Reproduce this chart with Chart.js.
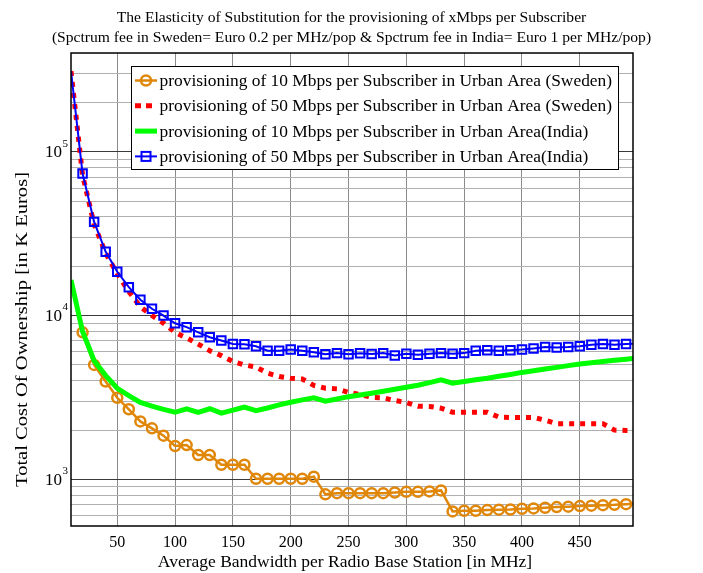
<!DOCTYPE html>
<html>
<head>
<meta charset="utf-8">
<script src="https://cdn.jsdelivr.net/npm/chart.js@4.4.0/dist/chart.umd.min.js"></script>
<style>
html,body{margin:0;padding:0;background:#fff;}
</style>
</head>
<body>
<canvas id="myChart" width="703" height="573"></canvas>
<script>
// data
const bandwidthMHz = [10,20,30,40,50,60,70,80,90,100,110,120,130,140,150,160,170,180,190,200,
  210,220,230,240,250,260,270,280,290,300,310,320,330,340,350,360,370,380,390,400,
  410,420,430,440,450,460,470,480,490,500];

const sweden10 = [null,7900,5000,3960,3150,2680,2260,2050,1850,1600,1620,1410,1410,1230,1230,1230,1010,1010,1010,1010,
  1010,1040,811,825,825,825,825,825,833,840,840,845,857,638,644,644,650,654,656,663,
  666,672,678,682,688,692,697,700,707,712];

const sweden50 = [310000,72000,36000,24000,18000,14000,11300,10000,9000,7900,7300,6700,6100,5700,5250,5000,4850,4450,4250,4150,
  4100,3750,3600,3570,3400,3300,3170,3150,3030,2950,2800,2790,2720,2570,2570,2570,2570,2400,2390,2390,
  2390,2300,2190,2190,2190,2190,2190,2000,1990,1990];

const india10 = [16500,8000,5300,4300,3600,3250,2950,2800,2680,2570,2700,2570,2700,2540,2650,2760,2630,2730,2850,2960,
  3060,3150,3000,3100,3200,3280,3360,3450,3550,3650,3760,3900,4050,3870,3960,4060,4150,4260,4370,4500,
  4600,4720,4830,4950,5070,5150,5240,5330,5420,5500];

const india50 = [310000,73600,37300,24500,18500,14900,12500,11000,10000,8980,8500,7900,7380,7050,6700,6680,6500,6100,6100,6200,
  6100,5980,5800,5900,5800,5880,5820,5900,5700,5840,5770,5840,5900,5840,5900,6100,6150,6100,6150,6200,
  6300,6420,6380,6420,6500,6630,6700,6630,6700,6750];

const seriesLabels = [
  "provisioning of 10 Mbps per Subscriber in Urban Area (Sweden)",
  "provisioning of 50 Mbps per Subscriber in Urban Area (Sweden)",
  "provisioning of 10 Mbps per Subscriber in Urban Area(India)",
  "provisioning of 50 Mbps per Subscriber in Urban Area(India)"
];

const xTicks = [50,100,150,200,250,300,350,400,450];
const yTicks = [600,700,800,900,1000,2000,3000,4000,5000,6000,7000,8000,9000,
  10000,20000,30000,40000,50000,60000,70000,80000,90000,100000,200000,300000];
const yLabelTicks = [1000,10000,100000];

const titleLines = [
  "The Elasticity of Substitution for the provisioning of xMbps per Subscriber",
  "(Spctrum fee in Sweden= Euro 0.2 per MHz/pop & Spctrum fee in India= Euro 1 per MHz/pop)"
];
const xTitle = 'Average Bandwidth per Radio Base Station [in MHz]';
const yTitle = 'Total Cost Of Ownership [in K Euros]';

const FONT = "'Liberation Serif', 'Times New Roman', serif";
const ORANGE = '#e0870a';

function toPoints(vals){
  return bandwidthMHz.map((x,i) => ({x: x, y: vals[i]}));
}

// no marker on first and last point
function markerSize(r){
  return function(ctx){
    if(!ctx.raw) return r;
    return (ctx.raw.x === 10 || ctx.raw.x === 500) ? 0 : r;
  };
}

// box round the plot, y labels with exponent, axis titles, legend inside the plot
const extrasPlugin = {
  id: 'extras',
  afterDraw(chart){
    const ctx = chart.ctx;
    const a = chart.chartArea;
    const ys = chart.scales.y;
    ctx.save();

    ctx.strokeStyle = '#000';
    ctx.lineWidth = 1.5;
    ctx.strokeRect(a.left, a.top, a.right - a.left, a.bottom - a.top);

    // 10^n labels
    ctx.fillStyle = '#000';
    yLabelTicks.forEach(v => {
      const y = ys.getPixelForValue(v);
      const exp = String(Math.round(Math.log10(v)));
      ctx.font = '17px ' + FONT;
      ctx.textAlign = 'right';
      ctx.textBaseline = 'middle';
      ctx.fillText('10', 62, y + 1);
      ctx.font = '11px ' + FONT;
      ctx.textAlign = 'left';
      ctx.fillText(exp, 62.5, y - 8);
    });

    // x title
    ctx.font = '17.5px ' + FONT;
    ctx.textAlign = 'center';
    ctx.textBaseline = 'middle';
    ctx.fillText(xTitle, 345, 562);

    // y title, stretched along its length like the original
    ctx.save();
    ctx.translate(23, 329.5);
    ctx.rotate(-Math.PI / 2);
    ctx.font = '17px ' + FONT;
    const tw = ctx.measureText(yTitle).width;
    ctx.scale(315 / tw, 1);
    ctx.textAlign = 'center';
    ctx.textBaseline = 'middle';
    ctx.fillText(yTitle, 0, 0);
    ctx.restore();

    // legend
    const lx = 131, ly = 66, lw = 487, lh = 103;
    ctx.fillStyle = '#fff';
    ctx.fillRect(lx, ly, lw, lh);
    ctx.strokeStyle = '#000';
    ctx.lineWidth = 1;
    ctx.strokeRect(lx + 0.5, ly + 0.5, lw, lh);

    const sets = chart.data.datasets;
    sets.forEach((ds, i) => {
      const y = 80.5 + i * 25.3;
      ctx.save();
      ctx.strokeStyle = ds.borderColor;
      ctx.lineWidth = ds.borderWidth;
      ctx.setLineDash(ds.borderDash ? [6,5] : []);
      ctx.beginPath();
      ctx.moveTo(135, y);
      ctx.lineTo(157, y);
      ctx.stroke();
      ctx.setLineDash([]);
      if(ds.pointStyle === 'circle'){
        ctx.lineWidth = 2.5;
        ctx.beginPath();
        ctx.arc(146, y, 5, 0, Math.PI * 2);
        ctx.stroke();
      } else if(ds.pointStyle === 'rect'){
        ctx.lineWidth = 2;
        ctx.strokeRect(141.5, y - 4.5, 9, 9);
      }
      ctx.restore();
      ctx.fillStyle = '#000';
      ctx.font = '17.4px ' + FONT;
      ctx.textAlign = 'left';
      ctx.textBaseline = 'middle';
      ctx.fillText(ds.label, 159.5, y + 1);
    });

    ctx.restore();
  }
};

const myChart = new Chart(document.getElementById('myChart').getContext('2d'), {
  type: 'line',
  data: {
    datasets: [
      {
        label: seriesLabels[0],
        data: toPoints(sweden10),
        borderColor: ORANGE,
        borderWidth: 2.5,
        pointStyle: 'circle',
        pointRadius: markerSize(5),
        pointBorderColor: ORANGE,
        pointBackgroundColor: 'rgba(0,0,0,0)',
        pointBorderWidth: 2.5,
        order: 4
      },
      {
        label: seriesLabels[1],
        data: toPoints(sweden50),
        borderColor: '#ff0000',
        borderWidth: 5,
        borderDash: [5,6],
        borderCapStyle: 'butt',
        pointRadius: 0,
        order: 3
      },
      {
        label: seriesLabels[2],
        data: toPoints(india10),
        borderColor: '#00ff00',
        borderWidth: 5,
        pointRadius: 0,
        order: 2
      },
      {
        label: seriesLabels[3],
        data: toPoints(india50),
        borderColor: '#0000ff',
        borderWidth: 2,
        pointStyle: 'rect',
        pointRadius: markerSize(6),
        pointBorderColor: '#0000ff',
        pointBackgroundColor: 'rgba(0,0,0,0)',
        pointBorderWidth: 2,
        order: 1
      }
    ]
  },
  options: {
    responsive: false,
    animation: false,
    devicePixelRatio: 1,
    layout: { padding: 0 },
    elements: { line: { tension: 0 } },
    plugins: {
      legend: { display: false },
      tooltip: { enabled: false },
      title: {
        display: true,
        text: titleLines,
        color: '#000',
        font: { family: FONT, size: 15.6, weight: 'normal', lineHeight: 1.34 },
        padding: { top: 7, bottom: 4.2 }
      }
    },
    scales: {
      x: {
        type: 'linear',
        min: 10,
        max: 496,
        afterBuildTicks: function(scale){
          scale.ticks = xTicks.map(v => ({value: v}));
        },
        afterFit: function(scale){
          scale.height = 47;
        },
        border: { display: false },
        grid: { color: '#8a8a8a', lineWidth: 1, drawTicks: false },
        ticks: {
          color: '#000',
          padding: 7,
          maxRotation: 0,
          font: { family: FONT, size: 16 }
        }
      },
      y: {
        type: 'logarithmic',
        min: 520,
        max: 400000,
        afterBuildTicks: function(scale){
          scale.ticks = yTicks.map(v => ({value: v}));
        },
        afterFit: function(scale){
          scale.width = 71;
        },
        border: { display: false },
        grid: {
          drawTicks: false,
          lineWidth: 1,
          color: function(c){
            const v = c.tick ? c.tick.value : 0;
            return yLabelTicks.indexOf(v) >= 0 ? '#3a3a3a' : '#b0b0b0';
          }
        },
        ticks: {
          callback: function(){ return ''; }
        }
      },
      // empty space on the right so the title centres on the page
      yRight: {
        type: 'linear',
        position: 'right',
        display: true,
        grid: { display: false },
        border: { display: false },
        ticks: { display: false },
        afterFit: function(scale){
          scale.width = 70;
        }
      }
    }
  },
  plugins: [extrasPlugin]
});
</script>
</body>
</html>
